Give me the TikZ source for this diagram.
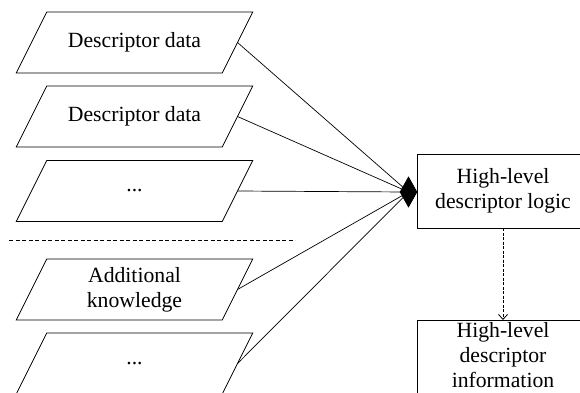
\documentclass[tikz,border=0pt]{standalone}
\usepackage{fontspec}
\setmainfont{Liberation Serif}
\usetikzlibrary{shapes.geometric,arrows.meta,backgrounds}
\newcommand\drawpara[1]{\draw ([xshift=15.25pt]#1.north west) -- ([xshift=15.25pt]#1.north east)
      -- ([xshift=-15.25pt]#1.south east) -- ([xshift=-15.25pt]#1.south west) -- cycle;}
\begin{document}
\begin{tikzpicture}[x=1pt,y=-1pt,line width=0.8pt,
  para/.style={shape=rectangle, minimum width=206pt, minimum height=61pt, inner sep=0pt, outer sep=0pt,
    align=center, font=\fontsize{21.7}{25}\selectfont},
  procbox/.style={rectangle, minimum width=172pt, inner sep=0pt, outer sep=0pt,
    align=center, font=\fontsize{21.7}{25}\selectfont},
  link/.style={line width=0.7pt}]
\useasboundingbox (0,0) rectangle (580,392);
\clip (0,0) rectangle (580,392);
\node[para] (d1) at (134.5,42.5) {Descriptor data};
\node[para] (d2) at (134.5,116.5) {Descriptor data};
\node[para] (d3) at (134.5,191) {...};
\node[para] (k1) at (134.5,289.5) {Additional\\knowledge};
\node[para] (k2) at (134.5,363.5) {...};
\foreach \n in {d1,d2,d3,k1,k2} {\drawpara{\n}}
\coordinate (dl1) at (9,240);
\coordinate (dl2) at (295,240);
\draw[dash pattern=on 4pt off 2.5pt] (dl1) -- (dl2);
\node[procbox, draw, minimum height=74pt] (logic) at (503,191) {High-level\\descriptor logic};
\node[procbox, minimum height=70pt] (info) at (503,355) {High-level\\descriptor\\information};
\draw (info.north west) rectangle ([yshift=-8pt]info.south east);
\node[draw, fill=black, shape=diamond, minimum width=17pt, minimum height=30pt, inner sep=0pt] (dia) at (408.5,192) {};
\begin{scope}[on background layer]
\foreach \n in {d1,d2,d3,k1,k2} \draw[link] (\n.east) -- (dia.center);
\end{scope}
\draw[dash pattern=on 3pt off 1.5pt, -{Straight Barb[length=5pt,width=9pt]}] (logic.south) -- (info.north);
\end{tikzpicture}
\end{document}
